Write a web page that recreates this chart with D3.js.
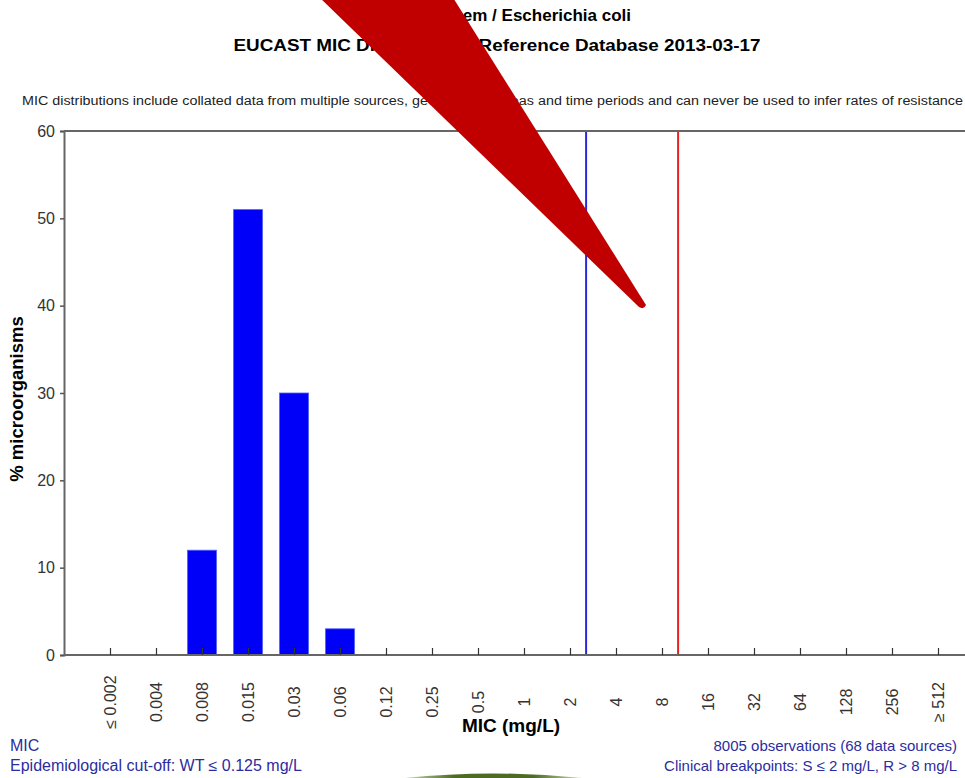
<!DOCTYPE html>
<html>
<head>
<meta charset="utf-8">
<script src="https://cdn.jsdelivr.net/npm/d3@7"></script>
<style>
  body { margin: 0; background: #fff; overflow: hidden; }
  text { font-family: "Liberation Sans", Arial, sans-serif; }
</style>
</head>
<body>
<div class="chart"></div>
<script>
// MIC categories (mg/L) and % of isolates in each
var micLabels = ["≤ 0.002", "0.004", "0.008", "0.015", "0.03", "0.06", "0.12", "0.25", "0.5",
                 "1", "2", "4", "8", "16", "32", "64", "128", "256", "≥ 512"];
var pctValues = [0, 0, 12, 51, 30, 3, 0, 0, 0, 0, 0, 0, 0, 0, 0, 0, 0, 0, 0];
var yTicks = [0, 10, 20, 30, 40, 50, 60];
// clinical breakpoints: S <= 2, R > 8
var breakS = "2";
var breakR = "8";

var width = 965, height = 778;

var svg = d3.select(".chart").append("svg")
  .attr("width", width)
  .attr("height", height);

var plot = { left: 64, top: 131, bottom: 655, right: 984 };

// x: one slot per MIC dilution, extra slot either side
var step = (plot.right - plot.left) / (micLabels.length + 1);
var xScale = d3.scalePoint()
  .domain(micLabels)
  .range([plot.left + step, plot.right - step]);

var yScale = d3.scaleLinear()
  .domain([0, 60])
  .range([plot.bottom, plot.top]);

// titles
svg.append("text")
  .attr("x", 631).attr("y", 21)
  .attr("text-anchor", "end")
  .attr("font-size", "17px").attr("font-weight", "bold")
  .text("Meropenem / Escherichia coli");

svg.append("text")
  .attr("x", 497).attr("y", 51)
  .attr("text-anchor", "middle")
  .attr("font-size", "16px").attr("font-weight", "bold")
  .attr("textLength", 527).attr("lengthAdjust", "spacingAndGlyphs")
  .text("EUCAST MIC Distribution - Reference Database 2013-03-17");

svg.append("text")
  .attr("x", 22).attr("y", 105)
  .attr("font-size", "12px").attr("fill", "#222")
  .attr("textLength", 941).attr("lengthAdjust", "spacingAndGlyphs")
  .text("MIC distributions include collated data from multiple sources, geographical areas and time periods and can never be used to infer rates of resistance");

// bars
svg.selectAll("rect.bar")
  .data(pctValues.map(function(v, i) { return { mic: micLabels[i], pct: v }; })
    .filter(function(d) { return d.pct > 0; }))
  .enter()
  .append("rect")
  .attr("class", "bar")
  .attr("x", d => xScale(d.mic) - 14.5)
  .attr("width", 29)
  .attr("y", d => yScale(d.pct))
  .attr("height", d => yScale(0) - yScale(d.pct))
  .attr("fill", "#0000f8")
  .attr("stroke", "#5060ff")
  .attr("stroke-width", 0.8);

// breakpoint lines
svg.append("line")
  .attr("x1", xScale(breakS) + step * 0.35).attr("x2", xScale(breakS) + step * 0.35)
  .attr("y1", plot.top).attr("y2", plot.bottom)
  .attr("stroke", "#2a2ad8").attr("stroke-width", 2);

svg.append("line")
  .attr("x1", xScale(breakR) + step * 0.35).attr("x2", xScale(breakR) + step * 0.35)
  .attr("y1", plot.top).attr("y2", plot.bottom)
  .attr("stroke", "#e82020").attr("stroke-width", 2);

// frame top
svg.append("line")
  .attr("x1", plot.left).attr("x2", width)
  .attr("y1", plot.top).attr("y2", plot.top)
  .attr("stroke", "#666").attr("stroke-width", 2);

// y axis
var yAxis = svg.append("g")
  .attr("transform", "translate(" + plot.left + ",0)")
  .call(d3.axisLeft(yScale).tickValues(yTicks).tickSize(4).tickPadding(5));
yAxis.select(".domain").attr("stroke", "#666").attr("stroke-width", 2);
yAxis.selectAll(".tick line").attr("stroke", "#555").attr("stroke-width", 1.5);
yAxis.selectAll(".tick text")
  .attr("font-size", "16px").attr("fill", "#333")
  .attr("font-family", "Liberation Sans, Arial, sans-serif");

// x axis: ticks pointing up into the plot
var xAxis = svg.append("g")
  .attr("transform", "translate(0," + plot.bottom + ")")
  .call(d3.axisBottom(xScale).tickSize(-7).tickSizeOuter(0));
xAxis.select(".domain").attr("stroke", "#666").attr("stroke-width", 2)
  .attr("d", "M" + plot.left + ",0H" + width);
xAxis.selectAll(".tick line").attr("stroke", "#333").attr("stroke-width", 1.2);
xAxis.selectAll(".tick text")
  .attr("font-size", "16px").attr("fill", "#333")
  .attr("font-family", "Liberation Sans, Arial, sans-serif")
  .attr("text-anchor", "middle")
  .attr("dy", "0.35em")
  .attr("transform", "translate(0,47) rotate(-90)")
  .attr("y", 0);

// axis titles
svg.append("text")
  .attr("transform", "translate(23,399) rotate(-90)")
  .attr("text-anchor", "middle")
  .attr("font-size", "18.5px").attr("font-weight", "bold")
  .text("% microorganisms");

svg.append("text")
  .attr("x", 511).attr("y", 732)
  .attr("text-anchor", "middle")
  .attr("font-size", "19px").attr("font-weight", "bold")
  .text("MIC (mg/L)");

// footnotes
var noteColor = "#2c2ca0";
svg.append("text").attr("x", 10).attr("y", 751)
  .attr("font-size", "16px").attr("fill", noteColor).text("MIC");
svg.append("text").attr("x", 10).attr("y", 771)
  .attr("font-size", "16px").attr("fill", noteColor)
  .text("Epidemiological cut-off: WT ≤ 0.125 mg/L");
svg.append("text").attr("x", 957).attr("y", 751)
  .attr("text-anchor", "end")
  .attr("font-size", "15px").attr("fill", noteColor)
  .text("8005 observations (68 data sources)");
svg.append("text").attr("x", 957).attr("y", 771)
  .attr("text-anchor", "end")
  .attr("font-size", "15px").attr("fill", noteColor)
  .text("Clinical breakpoints: S ≤ 2 mg/L,  R > 8 mg/L");

// presentation overlay: red pointer and green slide decoration
svg.append("path")
  .attr("d", "M318,-4 L452,-4 L646,305 Q644,310 639,307 Z")
  .attr("fill", "#c00000");

var grad = svg.append("defs").append("linearGradient").attr("id", "grn");
grad.append("stop").attr("offset", "0%").attr("stop-color", "#e4ead6");
grad.append("stop").attr("offset", "30%").attr("stop-color", "#4d6b22");
grad.append("stop").attr("offset", "70%").attr("stop-color", "#4d6b22");
grad.append("stop").attr("offset", "100%").attr("stop-color", "#e4ead6");
svg.append("path")
  .attr("d", "M395,779 Q493,768 592,779 Z")
  .attr("fill", "url(#grn)");
</script>
</body>
</html>
